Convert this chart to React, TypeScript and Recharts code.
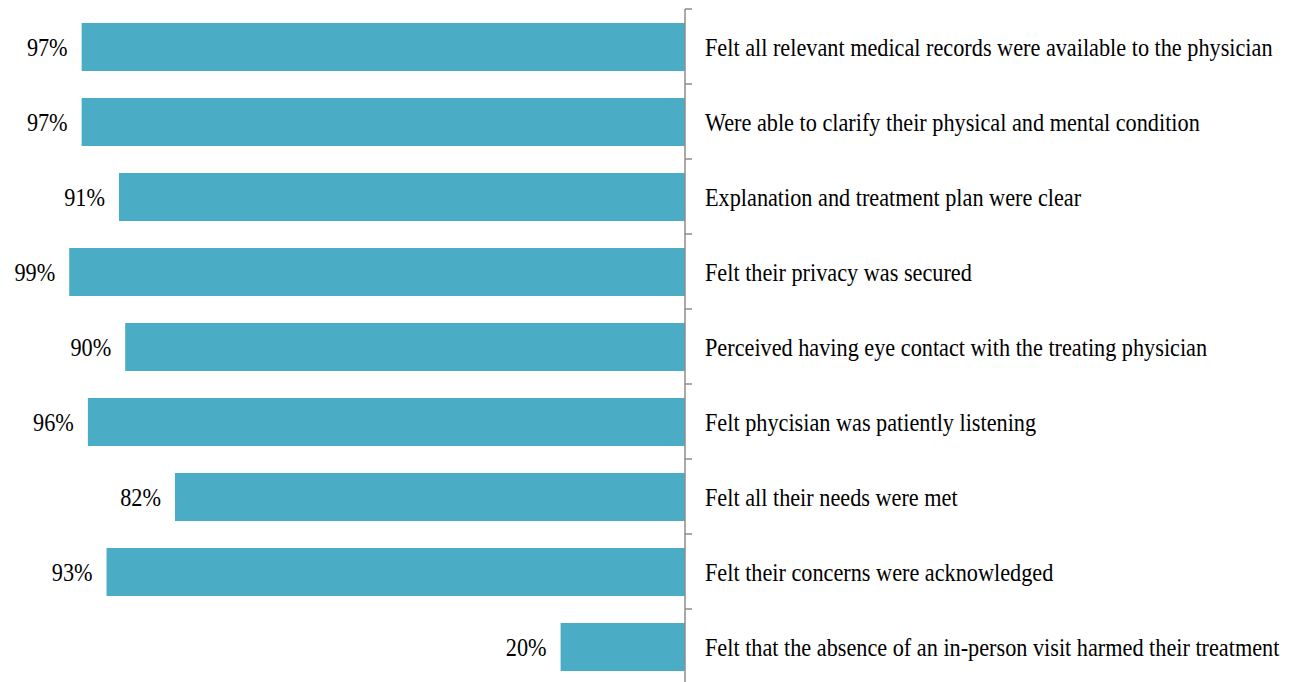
import React from 'react';
import { BarChart, Bar, XAxis, YAxis, LabelList } from 'recharts';

const categories = [
  'Felt all relevant medical records were available to the physician',
  'Were able to clarify their physical and mental condition',
  'Explanation and treatment plan were clear',
  'Felt their privacy was secured',
  'Perceived having eye contact with the treating physician',
  'Felt phycisian was patiently listening',
  'Felt all their needs were met',
  'Felt their concerns were acknowledged',
  'Felt that the absence of an in-person visit harmed their treatment',
];
const shares = [97, 97, 91, 99, 90, 96, 82, 93, 20];

const data = categories.map((name, i) => ({ name, value: shares[i] }));

const W = 1297;
const H = 684;
const margin = { top: 9, right: 0, bottom: 0, left: 63 };
const band = (H - margin.top - margin.bottom) / categories.length;
const font = "'Liberation Serif', 'Times New Roman', Times, 'DejaVu Serif', serif";
const barColor = '#4bacc6';
const axisColor = '#8c8c8c';
// the source text is a tall, slightly condensed serif
const textStyle = { fontFamily: font, fontSize: 25 };
const squeeze = 0.89;
const baselineShift = 9;

// category text sits right of the axis; tick marks fall on band edges
const CategoryTick = (props: any) => {
  const { x, y, payload } = props;
  const ax = x - 8; // recharts pushes the tick out by its tick size
  const edge = y - band / 2;
  return (
    <g>
      <line x1={ax} x2={ax + 7} y1={edge} y2={edge} stroke={axisColor} strokeWidth={1.5} />
      <text
        transform={`translate(${ax + 20},${y + baselineShift}) scale(${squeeze},1)`}
        style={textStyle}
        fill="#000"
      >
        {payload.value}
      </text>
    </g>
  );
};

const ValueLabel = (props: any) => {
  const { x, y, width, height, value } = props;
  const left = Math.min(x, x + width);
  return (
    <text
      transform={`translate(${left - 14},${y + height / 2 + baselineShift}) scale(${squeeze},1)`}
      textAnchor="end"
      style={textStyle}
      fill="#000"
    >
      {value}%
    </text>
  );
};

export default function App() {
  return (
    <div style={{ position: 'fixed', left: 0, top: 0, width: W, height: H, background: '#fff', fontFamily: font }}>
      <BarChart width={W} height={H} data={data} layout="vertical" margin={margin} barSize={48}>
        <XAxis type="number" domain={[0, 100]} reversed hide />
        <YAxis
          type="category"
          dataKey="name"
          orientation="right"
          width={W - 685}
          axisLine={{ stroke: axisColor, strokeWidth: 1.5 }}
          tickLine={false}
          tick={<CategoryTick />}
          interval={0}
        />
        <Bar dataKey="value" fill={barColor} isAnimationActive={false}>
          <LabelList dataKey="value" content={<ValueLabel />} />
        </Bar>
      </BarChart>
    </div>
  );
}
